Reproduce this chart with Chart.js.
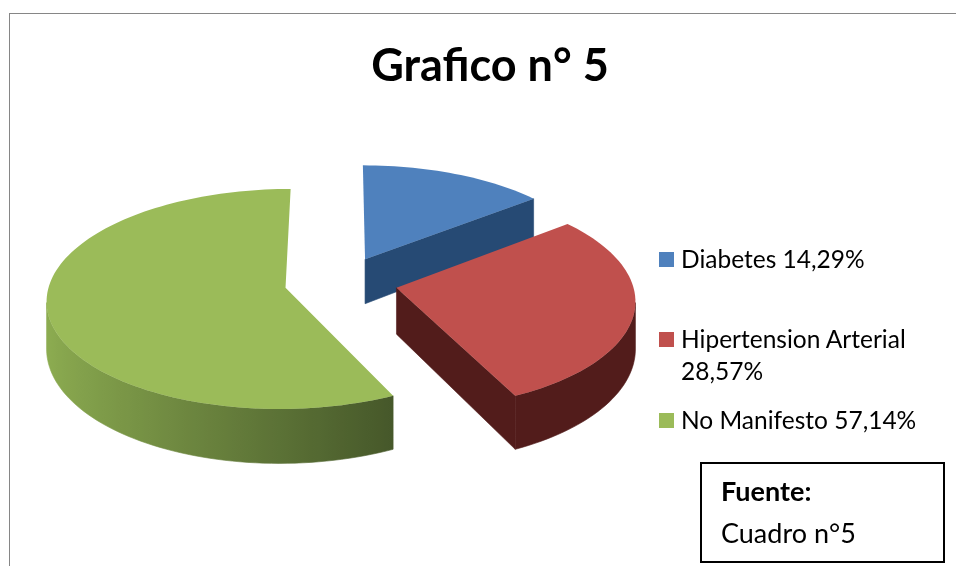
<!DOCTYPE html>
<html>
<head>
<meta charset="utf-8">
<script src="https://cdn.jsdelivr.net/npm/chart.js@4/dist/chart.umd.js"></script>
<style>
  html, body { margin: 0; padding: 0; background: #fff; overflow: hidden; }
  #page { position: relative; width: 956px; height: 566px; font-family: Lato, sans-serif; color: #000; }
  #frame { position: absolute; left: 9px; top: 13px; right: 0; bottom: 0; border-left: 1.5px solid #868686; border-top: 1.5px solid #868686; }
  canvas { position: absolute; left: 0; top: 0; }
  #legend { position: absolute; left: 659px; top: 0; width: 280px; font-size: 24.5px; line-height: 32px; }
  .item { position: absolute; left: 0; width: 270px; padding-left: 22px; box-sizing: border-box; }
  .item i { position: absolute; left: 0; top: 9px; width: 15px; height: 15px; }
  .item:nth-child(1) { top: 243px; }
  .item:nth-child(2) { top: 323px; }
  .item:nth-child(3) { top: 404px; }
  .item span { display: block; width: 238px; }
  #source { position: absolute; left: 700px; top: 462px; width: 241px; height: 97px; border: 2px solid #000; font-size: 27px; line-height: 42px; }
  #source div { margin-left: 19px; }
  #source .head { font-weight: bold; margin-top: 6px; }
</style>
</head>
<body>
<div id="page">
  <div id="frame"></div>
  <canvas id="pie" width="956" height="566"></canvas>
  <div id="legend"></div>
  <div id="source"><div class="head">Fuente:</div><div>Cuadro n°5</div></div>
</div>
<script>
// Data
const categories = ["Diabetes", "Hipertension Arterial", "No Manifesto"];
const percentages = [14.29, 28.57, 57.14];
const topColors = ["#4f81bd", "#c0504d", "#9bbb59"];
const sideDark = ["#264a74", "#521c1b", "#46582a"];
const sideLight = ["#2c5585", "#521c1b", "#8dad51"];
const chartTitle = "Grafico n° 5";

// Camera for the tilted pie, the plane is in units of the pie radius
const CAMERA = { cx: 341, cy: 282, rx: 235.8, ry: 107.7, persp: 0.101, depth: 46 };
const EXPLODE = 0.24;

function project(x, y) {
  const w = 1 - CAMERA.persp * y;
  return {
    x: CAMERA.cx + CAMERA.rx * x / w,
    y: CAMERA.cy + CAMERA.ry * y / w,
    drop: CAMERA.depth / Math.pow(w, 1.5)
  };
}

function mixColor(a, b, t) {
  const rgb = h => [1, 3, 5].map(i => parseInt(h.substr(i, 2), 16));
  const ca = rgb(a), cb = rgb(b);
  return `rgb(${ca.map((v, i) => Math.round(v + (cb[i] - v) * t)).join(",")})`;
}

function fillWall(ctx, run, paint) {
  ctx.beginPath();
  run.forEach((p, i) => i ? ctx.lineTo(p.x, p.y) : ctx.moveTo(p.x, p.y));
  run.slice().reverse().forEach(p => ctx.lineTo(p.x, p.y + p.drop));
  ctx.closePath();
  ctx.fillStyle = paint;
  ctx.strokeStyle = paint;
  ctx.lineWidth = 0.6;
  ctx.fill();
  ctx.stroke();
}

// Pie slice drawn as an exploded 3D wedge
class Arc3D extends Chart.ArcElement {
  draw(ctx) {
    const { startAngle, endAngle } = this.getProps(["startAngle", "endAngle"]);
    const mid = (startAngle + endAngle) / 2;
    const ox = Math.cos(mid) * EXPLODE, oy = Math.sin(mid) * EXPLODE;
    const steps = Math.ceil((endAngle - startAngle) / 0.03);
    const apex = project(ox, oy);

    const rim = [];
    for (let i = 0; i <= steps; i++) {
      const a = startAngle + (endAngle - startAngle) * i / steps;
      const p = project(ox + Math.cos(a), oy + Math.sin(a));
      p.normal = Math.cos(a);
      rim.push(p);
    }

    const dark = sideDark[this.$context.dataIndex];
    const light = sideLight[this.$context.dataIndex];

    // flat cut from the rim back to the centre, only when it faces the viewer
    const last = rim[rim.length - 1];
    if (apex.x < last.x - 0.2 * Math.abs(apex.y - last.y)) {
      fillWall(ctx, [last, apex], dark);
    }

    // curved wall, the part of the rim that runs right to left on screen
    const run = rim.filter((p, i) => (rim[i + 1] && rim[i + 1].x < p.x) || (rim[i - 1] && p.x < rim[i - 1].x));
    if (run.length > 1) {
      const x0 = run[run.length - 1].x, x1 = run[0].x;
      const grad = ctx.createLinearGradient(x0, 0, x1, 0);
      run.forEach(p => {
        const t = Math.min(1, Math.max(0, (0.43 - p.normal) / 1.43));
        grad.addColorStop((p.x - x0) / (x1 - x0), mixColor(dark, light, t));
      });
      fillWall(ctx, run, grad);
    }

    // top face
    ctx.beginPath();
    ctx.moveTo(apex.x, apex.y);
    rim.forEach(p => ctx.lineTo(p.x, p.y));
    ctx.closePath();
    ctx.fillStyle = this.options.backgroundColor;
    ctx.fill();
  }
}
Arc3D.id = "arc3d";
Arc3D.defaults = Chart.ArcElement.defaults;

class Pie3DController extends Chart.PieController {}
Pie3DController.id = "pie3d";
Pie3DController.defaults = { dataElementType: "arc3d" };

Chart.register(Arc3D, Pie3DController);

new Chart(document.getElementById("pie").getContext("2d"), {
  type: "pie3d",
  data: {
    labels: categories,
    datasets: [{ data: percentages, backgroundColor: topColors, borderWidth: 0 }]
  },
  options: {
    responsive: false,
    animation: false,
    layout: { padding: { left: 24 } },
    plugins: {
      legend: { display: false },
      tooltip: { enabled: false },
      title: {
        display: true,
        text: chartTitle,
        color: "#000",
        font: { family: "Lato", size: 45, weight: "bold" },
        padding: { top: 39, bottom: 0 }
      }
    }
  }
});

// Legend
const legendEl = document.getElementById("legend");
categories.forEach((name, i) => {
  const item = document.createElement("div");
  item.className = "item";
  const text = `${name} ${percentages[i].toFixed(2).replace(".", ",")}%`;
  item.innerHTML = `<i style="background:${topColors[i]}"></i><span>${text}</span>`;
  legendEl.appendChild(item);
});
</script>
</body>
</html>
